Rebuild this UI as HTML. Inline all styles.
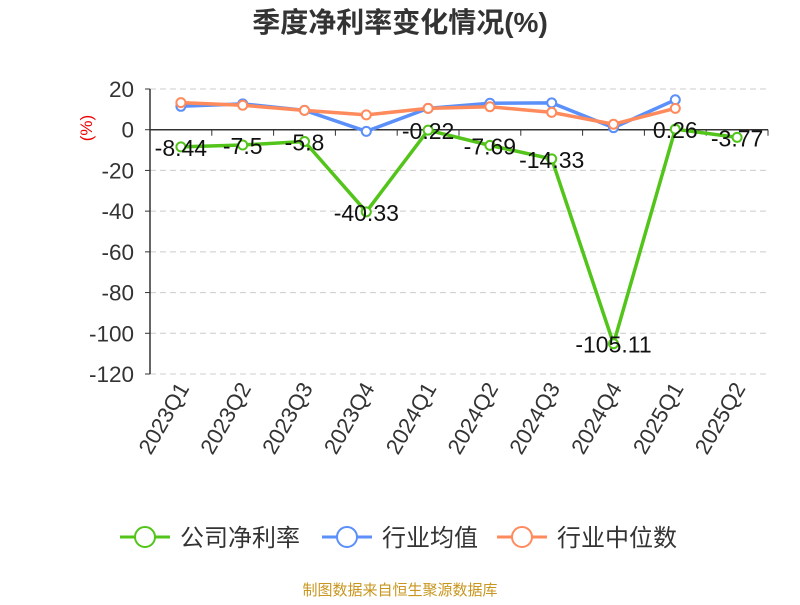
<!DOCTYPE html>
<html><head><meta charset="utf-8"><style>
body{margin:0;background:#fff;font-family:"Liberation Sans","Noto Sans CJK SC",sans-serif;}
</style></head><body>
<svg id="c" width="800" height="600" xmlns="http://www.w3.org/2000/svg"></svg>
<script>
const categories=["2023Q1","2023Q2","2023Q3","2023Q4","2024Q1","2024Q2","2024Q3","2024Q4","2025Q1","2025Q2"];
const company=[-8.44,-7.5,-5.8,-40.33,-0.22,-7.69,-14.33,-105.11,0.26,-3.77];
const industryAvg=[11.5,12.7,9.5,-0.8,10.5,13,13.2,1,14.7,null];
const industryMedian=[13.3,12,9.5,7.3,10.5,11.3,8.5,2.7,10.5,null];
const yTicks=[20,0,-20,-40,-60,-80,-100,-120];
const NS="http://www.w3.org/2000/svg";
const svg=document.getElementById('c');
const L=150,R=768,T=89,B=374;
const y=v=>T+(20-v)*(B-T)/140;
const bw=(R-L)/categories.length;
const x=i=>L+bw*(i+0.5);
function el(t,a,p){const e=document.createElementNS(NS,t);for(const k in a)e.setAttribute(k,a[k]);(p||svg).appendChild(e);return e;}
let t=el('text',{x:400,y:32,'text-anchor':'middle','font-size':28,'font-weight':'bold',fill:'#333'});t.textContent='季度净利率变化情况(%)';


t=el('text',{x:92,y:128,'text-anchor':'middle','font-size':17,fill:'#e00',transform:'rotate(-90 92 128)'});t.textContent='(%)';


yTicks.forEach(v=>{
 if(v!==0){const g=el('line',{x1:L,x2:R,y1:y(v),y2:y(v),stroke:'#ccc','stroke-dasharray':'6,4'});
 
 }
 const tk=el('text',{x:134,y:y(v)+8,'text-anchor':'end','font-size':22.5,fill:'#333'});tk.textContent=v;
 
 
 el('line',{x1:L-5,x2:L,y1:y(v),y2:y(v),stroke:'#333'});
});
let a=el('line',{x1:L,x2:L,y1:T,y2:B,stroke:'#333','stroke-width':1.5});


a=el('line',{x1:L,x2:R,y1:y(0),y2:y(0),stroke:'#333','stroke-width':1.5});


categories.forEach((c,i)=>{
 el('line',{x1:L+bw*(i+1),x2:L+bw*(i+1),y1:y(0),y2:y(0)+6,stroke:'#333'});
 const lx=x(i)+9,ly=388;
 const tk=el('text',{x:lx,y:ly,'text-anchor':'end','font-size':22,fill:'#333',transform:`rotate(-60 ${lx} ${ly})`});tk.textContent=c;
 
 
});
function series(data,color,name,labels){
 let d='';data.forEach((v,i)=>{if(v==null)return;d+=(d?'L':'M')+x(i)+','+y(v);});
 const p=el('path',{d,fill:'none',stroke:color,'stroke-width':3.5});
 
 
 data.forEach((v,i)=>{if(v==null)return;
  const c=el('circle',{cx:x(i),cy:y(v),r:4.5,fill:'#fff',stroke:color,'stroke-width':2});
  
  
  if(labels){const l=el('text',{x:x(i),y:y(v)+9,'text-anchor':'middle','font-size':23,fill:'#111'});l.textContent=v;
   
   }
 });
}
series(industryAvg,'#5b8ff9','industry-avg');
series(industryMedian,'#ff8a5c','industry-median');
series(company,'#52c41a','company',true);
const leg=[['公司净利率','#52c41a',120],['行业均值','#5b8ff9',322],['行业中位数','#ff8a5c',497]];
leg.forEach(([n,c,lx])=>{
 const g=el('g',{});
 
 
 el('line',{x1:lx,x2:lx+50,y1:537,y2:537,stroke:c,'stroke-width':3},g);
 el('circle',{cx:lx+25,cy:537,r:10,fill:'#fff',stroke:c,'stroke-width':2},g);
 const tt=el('text',{x:lx+60,y:546,'font-size':24,fill:'#333'},g);tt.textContent=n;
});
t=el('text',{x:400,y:595,'text-anchor':'middle','font-size':15,fill:'#c8961e'});t.textContent='制图数据来自恒生聚源数据库';


</script>
</body></html>
